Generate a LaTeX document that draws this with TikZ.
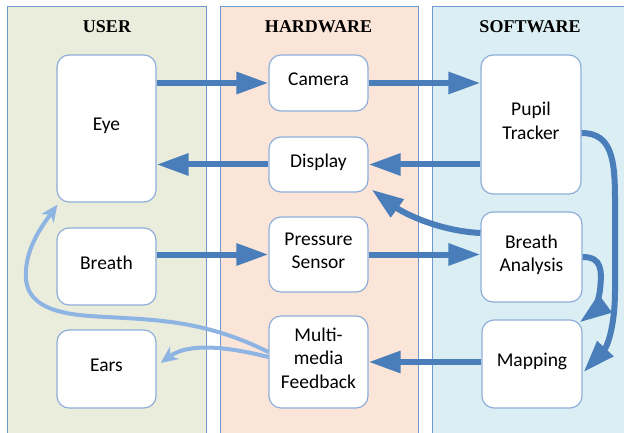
\documentclass[tikz,border=0pt]{standalone}
\usepackage{fontspec}
\setmainfont{Carlito}
\newfontfamily\hdrfont{Liberation Serif}
\usetikzlibrary{arrows.meta,calc}
\definecolor{darkarr}{HTML}{4A7EBB}
\definecolor{lightarr}{HTML}{8EB4E3}
\definecolor{nodeb}{HTML}{8EAED8}
\definecolor{panelb}{HTML}{6E98D0}
\definecolor{userfill}{HTML}{EBEDDC}
\definecolor{hwfill}{HTML}{FBE5D8}
\definecolor{swfill}{HTML}{DBEEF4}
\begin{document}
\begin{tikzpicture}[x=1pt,y=-1pt,
  box/.style={draw=nodeb, line width=1.2pt, fill=white, rounded corners=12pt, align=center,
    font=\fontsize{19.5}{23.5}\selectfont, inner sep=0pt, text depth=8pt},
  darr/.style={draw=darkarr, line width=6pt, -{Triangle[length=32pt,width=21pt]}},
  larr/.style={draw=lightarr, line width=4pt, -{Stealth[length=17pt,width=15pt,inset=5pt]}},
  panel/.style={fill=#1, draw=panelb, line width=1pt},
  hdr/.style={font=\hdrfont\bfseries\fontsize{18}{20}\selectfont, anchor=base}]
\useasboundingbox (0,0) rectangle (624,433);
\clip (0,0) rectangle (624,433);
% panels
\path[panel=userfill] (7,7) rectangle (206,445);
\path[panel=hwfill] (220,7) rectangle (418,445);
\path[panel=swfill] (432,7) rectangle (640,445);
\node[hdr] (huser) at (107,33) {USER};
\node[hdr] (hhw) at (318.5,33) {HARDWARE};
\node[hdr] (hsw) at (530,33) {SOFTWARE};
% nodes
\node[box, minimum width=99pt, minimum height=147pt] (eye) at (106.5,128.5) {Eye};
\node[box, minimum width=99pt, minimum height=77pt] (breath) at (106.5,266.5) {Breath};
\node[box, minimum width=99pt, minimum height=78pt] (ears) at (106.5,369) {Ears};
\node[box, minimum width=99pt, minimum height=56pt] (camera) at (318.5,83) {Camera};
\node[box, minimum width=99pt, minimum height=55pt] (display) at (318.5,164.5) {Display};
\node[box, minimum width=99pt, minimum height=75pt] (pressure) at (318.5,254.5) {Pressure\\Sensor};
\node[box, minimum width=99pt, minimum height=92pt] (mm) at (318.5,362) {Multi-\\media\\Feedback};
\node[box, minimum width=100pt, minimum height=139pt] (pupil) at (531,124.5) {Pupil\\Tracker};
\node[box, minimum width=101pt, minimum height=90pt] (ba) at (531.5,257) {Breath\\Analysis};
\node[box, minimum width=100pt, minimum height=88pt] (mapping) at (532,364) {Mapping};
% straight arrows
\draw[darr] (eye.east |- camera.west) -- (camera.west);
\draw[darr] (camera.east) -- (pupil.west |- camera.east);
\draw[darr] (pupil.west |- display.east) -- (display.east);
\draw[darr] (display.west) -- (eye.east |- display.west);
\draw[darr] (breath.east |- pressure.west) -- (pressure.west);
\draw[darr] (pressure.east) -- (ba.west |- pressure.east);
\draw[darr] (mapping.west |- mm.east) -- (mm.east);
% curved dark arrows
\draw[darr] (ba.west |- 0,233) .. controls (440,231) and (405,214) .. ($(display.south east)+(3,-3)$);
\draw[darr] (pupil.east |- 0,133) .. controls (612,133) and (615,160) .. (615,200)
  -- (615,290) .. controls (615,330) and (606,348) .. ($(mapping.east)+(1,8)$);
\draw[darr] (ba.east) .. controls (602,257) and (602,270) .. (600,290)
  .. controls (598,305) and (591,314) .. ($(mapping.north east)+(-3,3)$);
% light arrows
\draw[larr] (mm.west |- 0,357) .. controls (240,350) and (192,340) .. ($(ears.east)+(4,-6)$);
\draw[larr] (mm.west |- 0,352) .. controls (200,318) and (150,320) .. (90,316)
  .. controls (30,312) and (22,290) .. (27,262)
  .. controls (31,240) and (45,222) .. ($(eye.south west)+(1,2)$);
\end{tikzpicture}
\end{document}
